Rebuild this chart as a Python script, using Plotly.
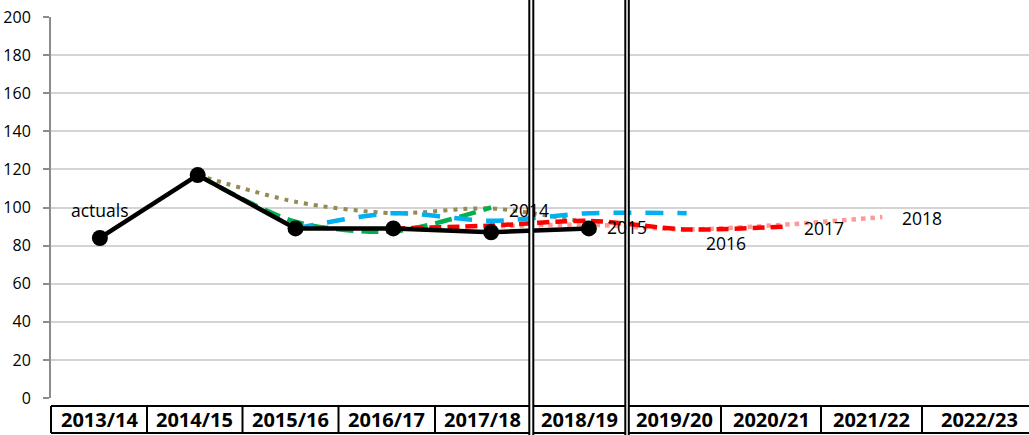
import plotly.graph_objects as go

categories = ["2013/14", "2014/15", "2015/16", "2016/17", "2017/18",
              "2018/19", "2019/20", "2020/21", "2021/22", "2022/23"]

actuals = [84, 117, 89, 89, 87, 89, None, None, None, None]
fc_2014 = [None, 117, 92.5, 87.5, 100, None, None, None, None, None]
fc_2015 = [None, 117, 103, 97, 99.5, 92, None, None, None, None]
fc_2016 = [None, None, 89, 97, 93, 97, 97, None, None, None]
fc_2017 = [None, None, None, 89, 90.5, 93, 88.5, 90, None, None]
fc_2018 = [None, None, None, None, 90, 91, 88.5, 91, 95, None]

label_names = ["actuals", "2014", "2015", "2016", "2017", "2018"]
label_cats = ["2013/14", "2017/18", "2018/19", "2019/20", "2020/21", "2021/22"]
label_vals = [98.5, 98.5, 90, 81.5, 89.5, 94.5]
label_shift = [0, 38, 38, 39, 39, 40]

yticks = [0, 20, 40, 60, 80, 100, 120, 140, 160, 180, 200]

FONT = "Open Sans"
W, H = 1029, 435
L, R, T, B = 51, 0, 17, 37
PW = W - L - R
PH = H - T - B


def px_x(px):
    return (px - L) / PW


def px_y(py):
    return (H - B - py) / PH


fig = go.Figure()

fig.add_trace(go.Scatter(x=categories, y=fc_2015, mode="lines",
                         line=dict(color="#948A54", width=4, dash="4px,6px",
                                   shape="spline", smoothing=0.8),
                         connectgaps=False, hoverinfo="skip"))
fig.add_trace(go.Scatter(x=categories, y=fc_2014, mode="lines",
                         line=dict(color="#00B050", width=4.5, dash="17px,8px",
                                   shape="spline", smoothing=0.8),
                         hoverinfo="skip"))
fig.add_trace(go.Scatter(x=categories, y=fc_2016, mode="lines",
                         line=dict(color="#00B0F0", width=4.5, dash="18px,14px",
                                   shape="spline", smoothing=0.8),
                         hoverinfo="skip"))
fig.add_trace(go.Scatter(x=categories, y=fc_2018, mode="lines",
                         line=dict(color="#FF9999", width=4.5, dash="4.5px,5px",
                                   shape="spline", smoothing=0.8),
                         hoverinfo="skip"))
fig.add_trace(go.Scatter(x=categories, y=fc_2017, mode="lines",
                         line=dict(color="#FF0000", width=4.5, dash="12px,6px",
                                   shape="spline", smoothing=0.8),
                         hoverinfo="skip"))
fig.add_trace(go.Scatter(x=categories, y=actuals, mode="lines+markers",
                         line=dict(color="#000000", width=4.5),
                         marker=dict(color="#000000", size=16),
                         hoverinfo="skip"))

for name, cat, val, sh in zip(label_names, label_cats, label_vals, label_shift):
    fig.add_annotation(x=cat, y=val, text=name, showarrow=False, xshift=sh,
                       font=dict(family=FONT, size=17.5, color="#000000"))

# table under the axis
cell_bounds = [(51, 147), (147, 242.5), (242.5, 338.5), (338.5, 435), (435, 529.3),
               (533.3, 625.3), (628.8, 721), (721, 821), (821, 922), (922, 1036)]
ty0, ty1 = px_y(433), px_y(406)
for yy in (ty0, ty1):
    fig.add_shape(type="line", xref="paper", yref="paper", x0=px_x(51), x1=px_x(1036),
                  y0=yy, y1=yy, line=dict(color="#000000", width=2), layer="above")
for e in [51, 147, 242.5, 338.5, 435, 721, 821, 922]:
    fig.add_shape(type="line", xref="paper", yref="paper", x0=px_x(e), x1=px_x(e),
                  y0=ty0, y1=ty1, line=dict(color="#000000", width=2), layer="above")
for cat, (a, b) in zip(categories, cell_bounds):
    fig.add_annotation(xref="paper", yref="paper", x=px_x((a + b) / 2), y=px_y(419.5),
                       text="<b>%s</b>" % cat, showarrow=False,
                       xanchor="center", yanchor="middle",
                       font=dict(family=FONT, size=20, color="#000000"))

# double vertical separators
for a, b in [(529.3, 533.3), (625.3, 628.8)]:
    fig.add_shape(type="rect", xref="paper", yref="paper", x0=px_x(a), x1=px_x(b),
                  y0=px_y(437), y1=px_y(-2), fillcolor="#FFFFFF",
                  line=dict(color="#000000", width=2), layer="above")

fig.update_layout(
    width=W, height=H,
    margin=dict(l=L, r=R, t=T, b=B),
    paper_bgcolor="#FFFFFF", plot_bgcolor="#FFFFFF",
    showlegend=False,
    font=dict(family=FONT, color="#000000"),
    xaxis=dict(type="category", categoryorder="array", categoryarray=categories,
               range=[-0.5, 9.5], showticklabels=False, showgrid=False,
               zeroline=False, showline=False, ticks=""),
    yaxis=dict(range=[0, 200], tickvals=yticks, showgrid=True, gridcolor="#D4D4D4",
               gridwidth=2, zeroline=False, showline=True, linecolor="#8C8C8C",
               linewidth=2, ticks="outside", ticklen=6, tickcolor="#8C8C8C",
               tickwidth=2, ticklabelstandoff=9,
               tickfont=dict(family=FONT, size=16, color="#000000")),
)

fig.write_html("out.html",
               config={"displayModeBar": False},
               post_script="document.body.style.margin='0';"
                           "document.body.style.overflow='hidden';")
